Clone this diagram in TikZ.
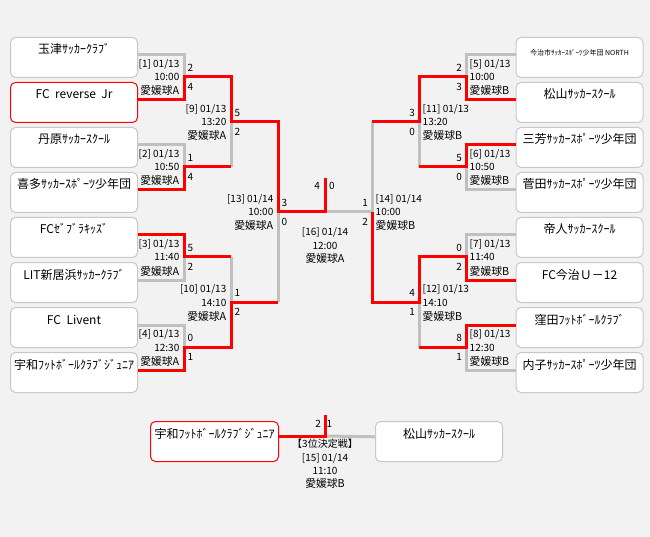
\documentclass[tikz,border=0pt]{standalone}
\usepackage{fontspec}
\setmainfont{Noto Sans CJK JP}
\definecolor{bgc}{RGB}{242,242,242}
\definecolor{lossc}{RGB}{192,192,192}
\definecolor{bordc}{RGB}{200,200,200}
\definecolor{winc}{RGB}{255,0,0}
\newcommand{\bkLmatch}[5]{%
  \node[lbl,anchor=east] (#1a) at ([shift={(-4.5,-13)}]#2) {#3};
  \node[lbl,anchor=east] (#1b) at ([shift={(-4.5,0.5)}]#2) {#4};
  \node[lbl,anchor=east] (#1c) at ([shift={(-4.5,14.5)}]#2) {#5};}
\newcommand{\bkRmatch}[5]{%
  \node[lbl,anchor=west] (#1a) at ([shift={(3.5,-13)}]#2) {#3};
  \node[lbl,anchor=west] (#1b) at ([shift={(3.5,0.5)}]#2) {#4};
  \node[lbl,anchor=west] (#1c) at ([shift={(3.5,14.5)}]#2) {#5};}
\newcommand{\bkLscore}[4]{%
  \node[lbl,anchor=west] (#1s) at ([shift={(3.5,-9)}]#2) {#3};
  \node[lbl,anchor=west] (#1t) at ([shift={(3.5,10)}]#2) {#4};}
\newcommand{\bkRscore}[4]{%
  \node[lbl,anchor=east] (#1s) at ([shift={(-4,-9)}]#2) {#3};
  \node[lbl,anchor=east] (#1t) at ([shift={(-4,10)}]#2) {#4};}
\newcommand{\bkPlace}[1]{{\fontsize{10.8}{12}\selectfont #1}}
\begin{document}
\begin{tikzpicture}[x=1pt,y=-1pt,
  team/.style={draw=bordc, line width=1pt, fill=white, rounded corners=5pt,
    anchor=north west, minimum width=127pt, minimum height=40pt,
    inner xsep=0pt, inner ysep=0pt, text height=16.5pt, text depth=23.5pt,
    font=\fontsize{12}{13}\selectfont},
  hot/.style={draw=winc},
  loss/.style={draw=lossc, line width=3pt},
  win/.style={draw=winc, line width=3pt},
  lbl/.style={inner sep=0pt, text height=7pt, text depth=0pt,
    font=\fontsize{10}{12}\selectfont}]
\fill[bgc] (0,0) rectangle (650,537);
\useasboundingbox (0,0) rectangle (650,537);

% team boxes left
\node[team] (L1) at (10,37) {玉津ｻｯｶｰｸﾗﾌﾞ};
\node[team,hot] (L2) at (10,82) {FC\ \ reverse\ \ Jr};
\node[team] (L3) at (10,127) {丹原ｻｯｶｰｽｸｰﾙ};
\node[team] (L4) at (10,172) {喜多ｻｯｶｰｽﾎﾟｰﾂ少年団};
\node[team] (L5) at (10,217) {FCｾﾞﾌﾞﾗｷｯｽﾞ};
\node[team] (L6) at (10,262) {LIT新居浜ｻｯｶｰｸﾗﾌﾞ};
\node[team] (L7) at (10,307) {FC\ \ Livent};
\node[team] (L8) at (10,352) {宇和ﾌｯﾄﾎﾞｰﾙｸﾗﾌﾞｼﾞｭﾆｱ};
% team boxes right
\node[team] (R1) at (515.5,37) {\raisebox{-2pt}{\fontsize{7}{8}\selectfont 今治市ｻｯｶｰｽﾎﾟｰﾂ少年団 NORTH}};
\node[team] (R2) at (515.5,82) {松山ｻｯｶｰｽｸｰﾙ};
\node[team] (R3) at (515.5,127) {三芳ｻｯｶｰｽﾎﾟｰﾂ少年団};
\node[team] (R4) at (515.5,172) {菅田ｻｯｶｰｽﾎﾟｰﾂ少年団};
\node[team] (R5) at (515.5,217) {帝人ｻｯｶｰｽｸｰﾙ};
\node[team] (R6) at (515.5,262) {FC今治Ｕ－12};
\node[team] (R7) at (515.5,307) {窪田ﾌｯﾄﾎﾞｰﾙｸﾗﾌﾞ};
\node[team] (R8) at (515.5,352) {内子ｻｯｶｰｽﾎﾟｰﾂ少年団};
% third place boxes
\node[team,hot,minimum width=128pt] (T1) at (150,421) {宇和ﾌｯﾄﾎﾞｰﾙｸﾗﾌﾞｼﾞｭﾆｱ};
\node[team] (T2) at (375,421) {松山ｻｯｶｰｽｸｰﾙ};

% junctions
\coordinate (m1) at (184,77);
\coordinate (m2) at (184,167);
\coordinate (m3) at (184,257);
\coordinate (m4) at (184,347);
\coordinate (m9) at (231,122);
\coordinate (m10) at (231,302);
\coordinate (m13) at (278,212);
\coordinate (fin) at (325,212);
\coordinate (ftop) at (325,178);
\coordinate (m5) at (466,77);
\coordinate (m6) at (466,167);
\coordinate (m7) at (466,257);
\coordinate (m8) at (466,347);
\coordinate (m11) at (419,122);
\coordinate (m12) at (419,302);
\coordinate (m14) at (372,212);
\coordinate (tp) at (325,436);
\coordinate (tptop) at (325,415);

% losing legs
\draw[loss] ([yshift=2.5pt]L1.east) -| (m1);
\draw[loss] ([yshift=2.5pt]L3.east) -| (m2);
\draw[loss] ([yshift=2.5pt]L6.east) -| (m3);
\draw[loss] ([yshift=2.5pt]L7.east) -| (m4);
\draw[loss] (m2 -| m9) -- (m9);
\draw[loss] (m3 -| m10) -- (m10);
\draw[loss] (m10 -| m13) -- (m13);
\draw[loss] ([yshift=2.5pt]R1.west) -| (m5);
\draw[loss] ([yshift=2.5pt]R4.west) -| (m6);
\draw[loss] ([yshift=2.5pt]R5.west) -| (m7);
\draw[loss] ([yshift=2.5pt]R8.west) -| (m8);
\draw[loss] (m6 -| m11) -- (m11);
\draw[loss] (m8 -| m12) -- (m12);
\draw[loss] (m11 -| m14) -- (m14) -- (fin);
\draw[loss] (tp) -- ([yshift=4.7pt]T2.west);

% winning paths
\draw[win] ([yshift=2.5pt]L2.east) -| (m1) -| (m9) -| (m13) -- (fin) -- (ftop);
\draw[win] ([yshift=2.5pt]L4.east) -| (m2) -- (m2 -| m9);
\draw[win] ([yshift=2.5pt]L5.east) -| (m3) -- (m3 -| m10);
\draw[win] ([yshift=2.5pt]L8.east) -| (m4) -| (m10) -- (m10 -| m13);
\draw[win] ([yshift=2.5pt]R2.west) -| (m5) -| (m11) -- (m11 -| m14);
\draw[win] ([yshift=2.5pt]R3.west) -| (m6) -- (m6 -| m11);
\draw[win] ([yshift=2.5pt]R6.west) -| (m7) -| (m12) -| (m14);
\draw[win] ([yshift=2.5pt]R7.west) -| (m8) -- (m8 -| m12);
\draw[win] ([yshift=4.7pt]T1.east) -| (tptop);

% match labels
\bkLmatch{k1}{m1}{[1] 01/13}{10:00}{\bkPlace{愛媛球A}}
\bkLmatch{k2}{m2}{[2] 01/13}{10:50}{\bkPlace{愛媛球A}}
\bkLmatch{k3}{m3}{[3] 01/13}{11:40}{\bkPlace{愛媛球A}}
\bkLmatch{k4}{m4}{[4] 01/13}{12:30}{\bkPlace{愛媛球A}}
\bkLmatch{k9}{m9}{[9] 01/13}{13:20}{\bkPlace{愛媛球A}}
\bkLmatch{k10}{m10}{[10] 01/13}{14:10}{\bkPlace{愛媛球A}}
\bkLmatch{k13}{m13}{[13] 01/14}{10:00}{\bkPlace{愛媛球A}}
\bkRmatch{k5}{m5}{[5] 01/13}{10:00}{\bkPlace{愛媛球B}}
\bkRmatch{k6}{m6}{[6] 01/13}{10:50}{\bkPlace{愛媛球B}}
\bkRmatch{k7}{m7}{[7] 01/13}{11:40}{\bkPlace{愛媛球B}}
\bkRmatch{k8}{m8}{[8] 01/13}{12:30}{\bkPlace{愛媛球B}}
\bkRmatch{k11}{m11}{[11] 01/13}{13:20}{\bkPlace{愛媛球B}}
\bkRmatch{k12}{m12}{[12] 01/13}{14:10}{\bkPlace{愛媛球B}}
\bkRmatch{k14}{m14}{[14] 01/14}{10:00}{\bkPlace{愛媛球B}}

% scores
\bkLscore{k1}{m1}{2}{4}
\bkLscore{k2}{m2}{1}{4}
\bkLscore{k3}{m3}{5}{2}
\bkLscore{k4}{m4}{0}{1}
\bkLscore{k9}{m9}{5}{2}
\bkLscore{k10}{m10}{1}{2}
\bkLscore{k13}{m13}{3}{0}
\bkRscore{k5}{m5}{2}{3}
\bkRscore{k6}{m6}{5}{0}
\bkRscore{k7}{m7}{0}{2}
\bkRscore{k8}{m8}{8}{1}
\bkRscore{k11}{m11}{3}{0}
\bkRscore{k12}{m12}{4}{1}
\bkRscore{k14}{m14}{1}{2}

% final
\node[lbl,anchor=east] (fs1) at ([shift={(-4.9,-26)}]fin) {4};
\node[lbl,anchor=west] (fs2) at ([shift={(3.9,-26)}]fin) {0};
\node[lbl] (fa) at ([shift={(0,20)}]fin) {[16] 01/14};
\node[lbl] (fb) at ([shift={(0,34)}]fin) {12:00};
\node[lbl] (fc) at ([shift={(0,47)}]fin) {\bkPlace{愛媛球A}};

% third place
\node[lbl,anchor=east] (ts1) at ([shift={(-3.9,-12)}]tp) {2};
\node[lbl,anchor=west] (ts2) at ([shift={(1.5,-12)}]tp) {1};
\node[lbl] (ta) at ([shift={(0,8)}]tp) {【3位決定戦】};
\node[lbl] (tb) at ([shift={(0,22)}]tp) {[15] 01/14};
\node[lbl] (tc) at ([shift={(0,35)}]tp) {11:10};
\node[lbl] (td) at ([shift={(0,48)}]tp) {\bkPlace{愛媛球B}};
\end{tikzpicture}
\end{document}
